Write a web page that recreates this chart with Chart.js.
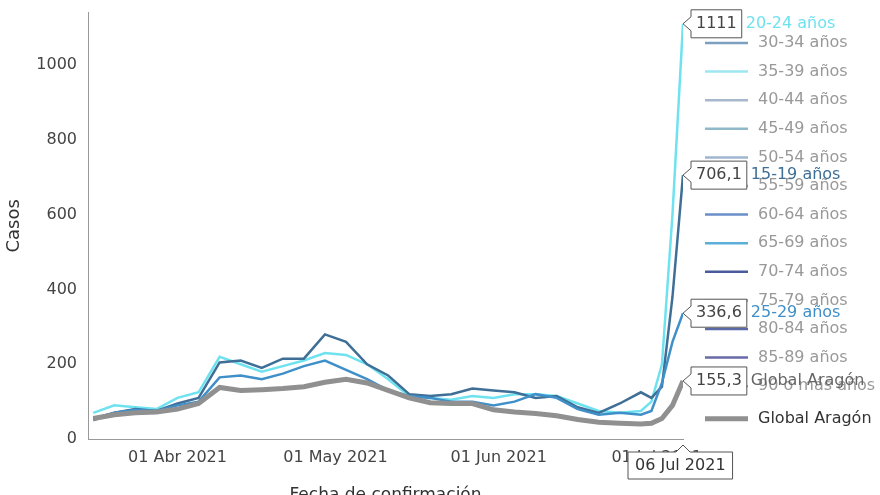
<!DOCTYPE html>
<html>
<head>
<meta charset="utf-8">
<script src="https://cdn.jsdelivr.net/npm/chart.js@4"></script>
<style>
  html, body { margin: 0; padding: 0; background: #fff; overflow: hidden; }
  #wrap { width: 880px; height: 510px; }
</style>
</head>
<body>
<div id="wrap"><canvas id="c"></canvas></div>
<script>
// day offsets from 16 Mar 2021
const days = [0,4,8,12,16,20,24,28,32,36,40,44,48,52,56,60,64,68,72,76,80,84,88,92,96,100,104,106,108,110,112];
const global = [55,65,70,72,80,95,138,130,132,135,140,152,160,150,130,110,97,95,95,78,72,68,62,52,45,42,40,42,55,90,155.3];
const age2024 = [70,90,85,80,110,125,220,200,180,195,210,230,225,200,160,115,110,105,115,110,120,120,115,95,75,70,75,100,200,600,1111];
const age1519 = [55,70,80,75,95,110,205,210,190,215,215,280,260,200,170,120,115,120,135,130,125,110,115,85,70,95,125,110,140,380,706.1];
const age2529 = [50,70,78,75,90,100,165,170,160,175,195,210,185,160,130,115,110,100,100,90,100,120,110,80,65,70,65,75,150,260,336.6];
const tickDays = [16, 46, 77, 107];
const tickLabels = ['01 Abr 2021', '01 May 2021', '01 Jun 2021', '01 Jul 2021'];
const yTicks = [0, 200, 400, 600, 800, 1000];
const legendNames = ['30-34 años','35-39 años','40-44 años','45-49 años','50-54 años','55-59 años','60-64 años','65-69 años','70-74 años','75-79 años','80-84 años','85-89 años','90 o más años','Global Aragón'];
const legendColors = ['#7d9fc0','#9ee6f2','#a8b8cc','#8fb8c8','#9fb6d0','#8fa8c8','#6a8ec8','#5aaed8','#4a5a9a','#8a9ac8','#5a6aa8','#6a6aa8','#9aa0b8','#909090'];

const series = [
  { label: 'Global Aragón', data: global, color: '#909090', width: 5, tag: '155,3' },
  { label: '25-29 años', data: age2529, color: '#3f8fc8', width: 2.5, tag: '336,6' },
  { label: '15-19 años', data: age1519, color: '#3f6f96', width: 2.5, tag: '706,1' },
  { label: '20-24 años', data: age2024, color: '#6fe2f0', width: 2.5, tag: '1111' }
];

const overlay = {
  id: 'overlay',
  afterDraw(chart) {
    const ctx = chart.ctx;
    const xs = chart.scales.x, ys = chart.scales.y;
    ctx.save();
    ctx.font = '16px "DejaVu Sans"';
    ctx.textBaseline = 'middle';
    // legend
    legendNames.forEach((n, i) => {
      const y = 43 + i * 28.6 + (i === 13 ? 4 : 0);
      ctx.strokeStyle = legendColors[i];
      ctx.lineWidth = i === 13 ? 5 : 2.5;
      ctx.beginPath(); ctx.moveTo(705, y); ctx.lineTo(748, y); ctx.stroke();
      ctx.fillStyle = i === 13 ? '#333' : '#999';
      ctx.fillText(n, 758, y);
    });
    // hover tags
    const lastX = xs.getPixelForValue(days[days.length - 1]);
    series.forEach(s => {
      const v = s.data[s.data.length - 1];
      const py = ys.getPixelForValue(v);
      const w = ctx.measureText(s.tag).width + 10;
      const x0 = lastX + 8;
      ctx.fillStyle = '#fff';
      ctx.strokeStyle = '#555';
      ctx.lineWidth = 1;
      ctx.beginPath();
      ctx.moveTo(lastX, py);
      ctx.lineTo(x0, py - 7); ctx.lineTo(x0, py - 14); ctx.lineTo(x0 + w, py - 14);
      ctx.lineTo(x0 + w, py + 14); ctx.lineTo(x0, py + 14); ctx.lineTo(x0, py + 7);
      ctx.closePath(); ctx.fill(); ctx.stroke();
      ctx.fillStyle = '#444';
      ctx.fillText(s.tag, x0 + 5, py);
      ctx.fillStyle = s.color === '#909090' ? '#666' : s.color;
      ctx.fillText(s.label, x0 + w + 4, py);
    });
    // x tag
    const t = '06 Jul 2021';
    const tw = ctx.measureText(t).width + 14;
    const bx = lastX - 55, by = 452;
    ctx.fillStyle = '#fff';
    ctx.strokeStyle = '#555';
    ctx.beginPath();
    ctx.moveTo(bx, by); ctx.lineTo(lastX - 7, by); ctx.lineTo(lastX, by - 7); ctx.lineTo(lastX + 7, by);
    ctx.lineTo(bx + tw, by); ctx.lineTo(bx + tw, by + 27); ctx.lineTo(bx, by + 27); ctx.closePath();
    ctx.fill(); ctx.stroke();
    ctx.fillStyle = '#333';
    ctx.fillText(t, bx + 7, by + 14);
    ctx.restore();
  }
};

new Chart(document.getElementById('c'), {
  type: 'line',
  data: {
    datasets: series.map(s => ({
      label: s.label,
      data: days.map((d, i) => ({ x: d, y: s.data[i] })),
      borderColor: s.color,
      borderWidth: s.width,
      pointRadius: 0,
      tension: 0,
      fill: false
    }))
  },
  options: {
    responsive: true,
    maintainAspectRatio: false,
    animation: false,
    layout: { padding: { top: 10, right: 197 } },
    plugins: { legend: { display: false }, tooltip: { enabled: false } },
    scales: {
      x: {
        type: 'linear',
        min: -1, max: 112,
        afterBuildTicks: a => { a.ticks = tickDays.map(v => ({ value: v })); },
        afterFit: a => { a.height = 71; },
        ticks: { callback: (v) => tickLabels[tickDays.indexOf(v)] || '', color: '#444', font: { size: 16, family: 'DejaVu Sans' }, maxRotation: 0, autoSkip: false },
        grid: { display: false, drawTicks: true, tickLength: 6 },
        border: { color: '#999' },
        title: { display: true, text: 'Fecha de confirmación', color: '#333', font: { size: 17, family: 'DejaVu Sans' }, padding: { top: 12 } }
      },
      y: {
        min: 0, max: 1141,
        afterBuildTicks: a => { a.ticks = yTicks.map(v => ({ value: v })); },
        afterFit: a => { a.width = 88; },
        ticks: { callback: v => String(v), color: '#444', font: { size: 16, family: 'DejaVu Sans' } },
        grid: { display: false },
        border: { color: '#999' },
        title: { display: true, text: 'Casos', color: '#333', font: { size: 18, family: 'DejaVu Sans' } }
      }
    }
  },
  plugins: [overlay]
});
</script>
</body>
</html>
